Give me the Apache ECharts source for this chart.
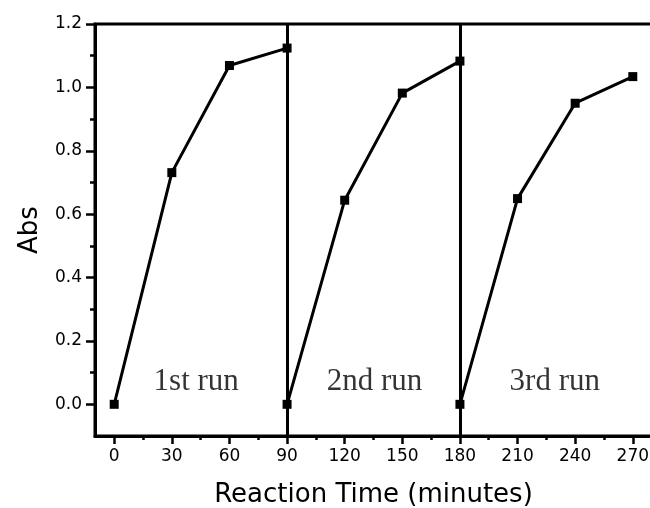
<!DOCTYPE html>
<html>
<head>
<meta charset="utf-8">
<script src="https://cdn.jsdelivr.net/npm/echarts@6/dist/echarts.min.js"></script>
<style>
  html, body { margin: 0; padding: 0; background: #fff; }
  #chart { width: 650px; height: 508px; }
</style>
</head>
<body>
<div id="chart"></div>
<script>
// Absorbance over three consecutive runs
const run1Time = [0, 30, 60, 90];
const run1Abs  = [0.0, 0.731, 1.069, 1.124];
const run2Time = [90, 120, 150, 180];
const run2Abs  = [0.0, 0.644, 0.982, 1.083];
const run3Time = [180, 210, 240, 270];
const run3Abs  = [0.0, 0.649, 0.950, 1.034];

// boundaries between runs
const runBoundaries = [90, 180];

// run annotations (centre position in data units)
const runNames  = ['1st run', '2nd run', '3rd run'];
const runNameX  = [42.7, 135.5, 229.4];
const runNameY  = [0.07, 0.07, 0.07];

// axis ticks
const xMajorTicks = [0, 30, 60, 90, 120, 150, 180, 210, 240, 270];
const xMinorTicks = [15, 45, 75, 105, 135, 165, 195, 225, 255];
const yMajorTicks = [0, 0.2, 0.4, 0.6, 0.8, 1.0, 1.2];
const yMinorTicks = [0.1, 0.3, 0.5, 0.7, 0.9, 1.1];

const pair = (xs, ys) => xs.map((x, i) => [x, ys[i]]);

const black = '#000';
const sansFont = 'DejaVu Sans';

const lineSeries = (xs, ys) => ({
  type: 'line',
  data: pair(xs, ys),
  symbol: 'rect',
  symbolSize: 9,
  showSymbol: true,
  lineStyle: { color: black, width: 3 },
  itemStyle: { color: black },
  z: 5,
  animation: false
});

const chart = echarts.init(document.getElementById('chart'), null, { renderer: 'canvas' });

chart.setOption({
  backgroundColor: '#fff',
  animation: false,
  grid: {
    left: 95, top: 24, right: -2, bottom: 72,
    show: true, borderColor: black, borderWidth: 3,
    containLabel: false,
    outerBoundsMode: 'none'
  },
  xAxis: [{
    type: 'value',
    min: -10, max: 280,
    position: 'bottom',
    name: 'Reaction Time (minutes)',
    nameLocation: 'middle',
    nameGap: 46,
    nameTextStyle: { fontFamily: sansFont, fontSize: 26, color: black },
    axisLine: { show: true, onZero: false, lineStyle: { color: black, width: 3 } },
    axisTick: { show: true, inside: false, length: 8, lineStyle: { color: black, width: 2.5 }, customValues: xMajorTicks },
    axisLabel: { show: true, margin: 12, fontFamily: sansFont, fontSize: 17, color: black, customValues: xMajorTicks },
    splitLine: { show: false }
  }, {
    type: 'value',
    min: -10, max: 280,
    position: 'bottom',
    axisLine: { show: false, onZero: false },
    axisTick: { show: true, inside: false, length: 4, lineStyle: { color: black, width: 2.5 }, customValues: xMinorTicks },
    axisLabel: { show: false, customValues: xMinorTicks },
    splitLine: { show: false }
  }],
  yAxis: [{
    type: 'value',
    min: -0.1, max: 1.2,
    position: 'left',
    name: 'Abs',
    nameLocation: 'middle',
    nameGap: 52,
    nameRotate: 90,
    nameTextStyle: { fontFamily: sansFont, fontSize: 26, color: black },
    axisLine: { show: true, onZero: false, lineStyle: { color: black, width: 3 } },
    axisTick: { show: true, inside: false, length: 9, lineStyle: { color: black, width: 2.5 }, customValues: yMajorTicks },
    axisLabel: {
      show: true, margin: 13, fontFamily: sansFont, fontSize: 17, color: black,
      customValues: yMajorTicks,
      formatter: v => v.toFixed(1)
    },
    splitLine: { show: false }
  }, {
    type: 'value',
    min: -0.1, max: 1.2,
    position: 'left',
    axisLine: { show: false, onZero: false },
    axisTick: { show: true, inside: false, length: 5, lineStyle: { color: black, width: 2.5 }, customValues: yMinorTicks },
    axisLabel: { show: false, customValues: yMinorTicks },
    splitLine: { show: false }
  }],
  series: [
    Object.assign(lineSeries(run1Time, run1Abs), {
      markLine: {
        silent: true,
        symbol: ['none', 'none'],
        label: { show: false },
        lineStyle: { color: black, width: 3, type: 'solid' },
        data: runBoundaries.map(x => ({ xAxis: x }))
      }
    }),
    lineSeries(run2Time, run2Abs),
    lineSeries(run3Time, run3Abs),
    {
      type: 'scatter',
      data: runNames.map((n, i) => ({ name: n, value: [runNameX[i], runNameY[i]] })),
      symbolSize: 1,
      itemStyle: { color: 'rgba(0,0,0,0)' },
      label: {
        show: true,
        position: 'inside',
        formatter: p => p.name,
        fontFamily: 'Liberation Serif',
        fontSize: 31,
        color: black
      },
      z: 4,
      silent: true
    }
  ]
});
</script>
</body>
</html>
